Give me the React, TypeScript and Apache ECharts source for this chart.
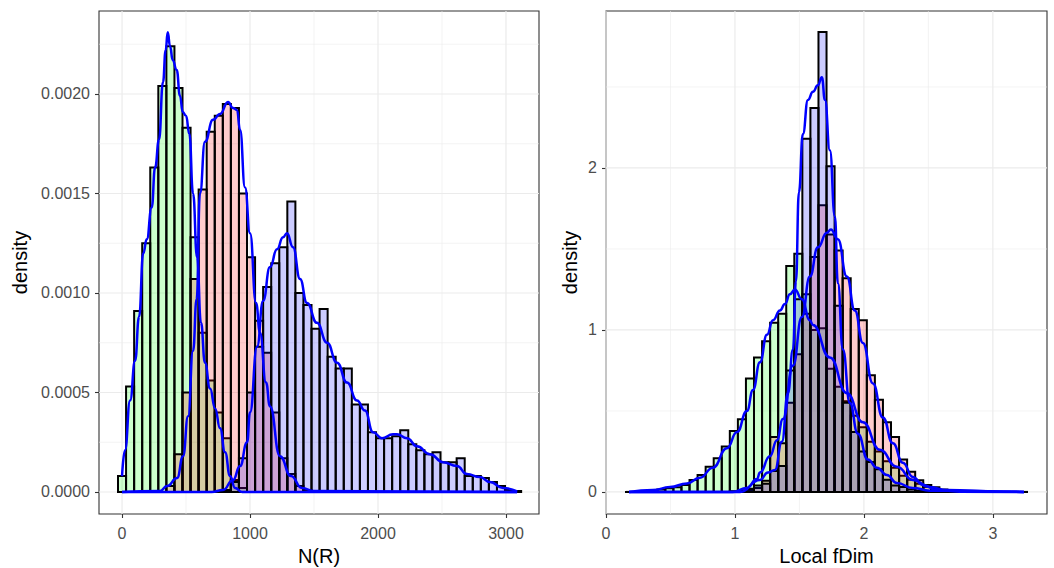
import React, { useEffect, useRef } from "react";
import * as echarts from "echarts";

// ---------------- Panel 1 : N(R) ----------------
const NR_FIRST_CENTER = 0;
const NR_BIN_WIDTH = 63;
const nrGreen = [
  0.00008, 0.00053, 0.00091, 0.00125, 0.00163, 0.00204, 0.00224, 0.00203, 0.00183, 0.00128,
  0.0008, 0.00056, 0.0004, 0.00027, 0.00006, 0.00002, 0, 0, 0, 0,
  0, 0, 0, 0, 0, 0, 0, 0, 0, 0,
  0, 0, 0, 0, 0, 0, 0, 0, 0, 0,
  0, 0, 0, 0, 0, 0, 0, 0, 0, 0,
];
const nrRed = [
  0, 0, 0, 0, 0, 0, 0.00003, 0.00019, 0.0005, 0.00107,
  0.00152, 0.00181, 0.00189, 0.00195, 0.00193, 0.0015, 0.00118, 0.00086, 0.0007, 0.0004,
  0.00017, 0.00009, 0.00003, 0.00001, 0, 0, 0, 0, 0, 0,
  0, 0, 0, 0, 0, 0, 0, 0, 0, 0,
  0, 0, 0, 0, 0, 0, 0, 0, 0, 0,
];
const nrBlue = [
  0, 0, 0, 0, 0, 0, 0, 0, 0, 0,
  0, 0, 0, 0.00001, 0.00005, 0.00017, 0.0005, 0.00073, 0.00103, 0.00115,
  0.00123, 0.00146, 0.001, 0.00094, 0.00082, 0.00092, 0.00068, 0.00062, 0.00062, 0.00044,
  0.00044, 0.0003, 0.00027, 0.00027, 0.00028, 0.00031, 0.00024, 0.00021, 0.00019, 0.0002,
  0.00015, 0.00015, 0.00017, 0.00008, 0.00008, 0.00007, 0.00005, 0.00003, 0.00001, 0.000005,
];
const nrDensGreen: number[][] = [
  [0, 0.00008], [23, 0.00021], [63, 0.00046], [102, 0.00066], [133, 0.00088], [166, 0.0012],
  [193, 0.00127], [232, 0.00143], [258, 0.00163], [289, 0.00177], [320, 0.00206], [341, 0.00222],
  [357, 0.00231], [375, 0.00224], [396, 0.00217], [427, 0.00212], [453, 0.00199], [474, 0.00191],
  [500, 0.00189], [526, 0.0018], [555, 0.0015], [586, 0.00118], [617, 0.00085], [648, 0.00065],
  [688, 0.00052], [727, 0.00042], [766, 0.00032], [805, 0.0002], [844, 0.00008], [883, 0.00002],
  [938, 0], [1500, 0], [3087, 0],
];
const nrDensRed: number[][] = [
  [0, 0], [297, 0.000005], [352, 0.00003], [430, 0.00007], [477, 0.00018], [516, 0.00038],
  [555, 0.00071], [583, 0.00097], [609, 0.0015], [648, 0.00176], [711, 0.00187], [766, 0.0019],
  [828, 0.00196], [867, 0.00193], [898, 0.00192], [922, 0.00182], [961, 0.00153], [1000, 0.0013],
  [1047, 0.00095], [1078, 0.0008], [1125, 0.00055], [1156, 0.00043], [1234, 0.00018], [1320, 0.00008],
  [1406, 0.00002], [1500, 0.000005], [3087, 0],
];
const nrDensBlue: number[][] = [
  [0, 0], [700, 0], [789, 0.00001], [867, 0.00006], [922, 0.00013], [977, 0.00025], [1000, 0.0004],
  [1055, 0.00073], [1102, 0.00096], [1156, 0.00113], [1211, 0.00122], [1258, 0.00128], [1289, 0.0013],
  [1336, 0.00123], [1391, 0.00107], [1445, 0.00095], [1523, 0.00085], [1602, 0.00075], [1680, 0.00065],
  [1758, 0.00055], [1836, 0.00046], [1898, 0.00041], [1961, 0.0003], [2031, 0.00027], [2117, 0.00029],
  [2148, 0.00029], [2227, 0.00027], [2305, 0.00023], [2406, 0.00019], [2508, 0.00015], [2617, 0.00013],
  [2695, 0.00009], [2797, 0.000075], [2875, 0.00005], [2977, 0.00002], [3087, 0.000003],
];
const nrXTicks = [0, 1000, 2000, 3000];
const nrXMinor = [500, 1500, 2500];
const nrYTicks = [0, 0.0005, 0.001, 0.0015, 0.002];
const nrYMinor = [0.00025, 0.00075, 0.00125, 0.00175, 0.00225];

// ---------------- Panel 2 : Local fDim ----------------
const FD_FIRST_CENTER = 0.179;
const FD_BIN_WIDTH = 0.0625;
const fdGreen = [
  0.003, 0.003, 0.006, 0.009, 0.016, 0.023, 0.029, 0.043, 0.074, 0.105,
  0.156, 0.208, 0.28, 0.377, 0.449, 0.7, 0.83, 0.93, 1.045, 1.1,
  1.395, 1.47, 1.22, 1.0, 1.01, 0.76, 0.65, 0.56, 0.47, 0.4,
  0.31, 0.25, 0.19, 0.15, 0.1, 0.075, 0.05, 0.03, 0.02, 0.012,
  0.007, 0.004, 0.003, 0.002, 0.001, 0.001, 0.0005, 0, 0, 0,
];
const fdRed = [
  0, 0, 0, 0, 0, 0, 0, 0, 0, 0,
  0, 0, 0, 0.003, 0.006, 0.012, 0.025, 0.07, 0.34, 0.3,
  0.55, 0.85, 1.1, 1.45, 1.77, 1.59, 1.49, 1.32, 1.13, 1.06,
  0.72, 0.57, 0.43, 0.34, 0.2, 0.125, 0.072, 0.043, 0.029, 0.015,
  0.008, 0.004, 0.002, 0.001, 0, 0, 0, 0, 0, 0,
];
const fdBlue = [
  0, 0, 0, 0, 0, 0, 0, 0, 0, 0,
  0, 0, 0.002, 0.005, 0.01, 0.02, 0.04, 0.05, 0.13, 0.16,
  0.75, 1.19, 2.18, 2.37, 2.84, 2.01, 1.15, 0.55, 0.37, 0.25,
  0.185, 0.14, 0.075, 0.04, 0.03, 0.015, 0.008, 0.005, 0.003, 0,
  0, 0, 0, 0, 0, 0, 0, 0, 0, 0,
];
const fdDensGreen: number[][] = [
  [0.179, 0.0], [0.364, 0.012], [0.496, 0.03], [0.628, 0.053], [0.729, 0.088], [0.829, 0.15],
  [0.938, 0.27], [1.016, 0.37], [1.093, 0.5], [1.14, 0.63], [1.194, 0.8], [1.248, 0.97],
  [1.295, 1.06], [1.349, 1.12], [1.388, 1.16], [1.426, 1.22], [1.465, 1.25], [1.519, 1.19],
  [1.581, 1.06], [1.605, 1.03], [1.736, 0.83], [1.868, 0.61], [1.992, 0.43], [2.124, 0.26],
  [2.256, 0.155], [2.38, 0.074], [2.512, 0.03], [2.643, 0.012], [3.05, 0.002], [3.241, 0],
];
const fdDensRed: number[][] = [
  [0.179, 0], [0.984, 0.0], [1.093, 0.025], [1.171, 0.08], [1.194, 0.12], [1.271, 0.22],
  [1.326, 0.32], [1.372, 0.45], [1.45, 0.78], [1.519, 1.08], [1.581, 1.33], [1.643, 1.51],
  [1.713, 1.6], [1.744, 1.62], [1.798, 1.56], [1.868, 1.33], [1.93, 1.12], [1.992, 0.92],
  [2.07, 0.67], [2.147, 0.46], [2.225, 0.3], [2.302, 0.18], [2.38, 0.093], [2.457, 0.043],
  [2.566, 0.012], [2.744, 0.002], [3.241, 0],
];
const fdDensBlue: number[][] = [
  [0.179, 0], [1.039, 0.0], [1.194, 0.074], [1.256, 0.12], [1.31, 0.136], [1.364, 0.31],
  [1.411, 0.61], [1.45, 0.88], [1.473, 1.3], [1.496, 1.85], [1.527, 2.21], [1.566, 2.42],
  [1.605, 2.47], [1.643, 2.51], [1.674, 2.56], [1.698, 2.42], [1.736, 2.11], [1.775, 1.7],
  [1.798, 1.29], [1.837, 0.88], [1.891, 0.55], [1.953, 0.36], [2.031, 0.2], [2.101, 0.15],
  [2.178, 0.105], [2.256, 0.055], [2.38, 0.025], [2.512, 0.008], [3.241, 0],
];
const fdXTicks = [0, 1, 2, 3];
const fdXMinor = [0.5, 1.5, 2.5];
const fdYTicks = [0, 1, 2];
const fdYMinor = [0.5, 1.5, 2.5];

// ---------------- styling ----------------
const FONT = "'Liberation Sans', Arial, Helvetica, sans-serif";
const FILL_GREEN = "rgba(0,255,0,0.2)";
const FILL_RED = "rgba(255,0,0,0.2)";
const FILL_BLUE = "rgba(0,0,255,0.2)";
const DENS_COLOR = "#0000FF";
const OUTLINE_W = 2;

function binItems(values: number[], firstCenter: number, width: number) {
  return values.map((h, i) => {
    const c = firstCenter + i * width;
    return [c - width / 2, c + width / 2, h];
  });
}

function barSeries(values: number[], firstCenter: number, width: number, fill: string, idx: number) {
  return {
    type: "custom",
    xAxisIndex: idx,
    yAxisIndex: idx,
    z: 3,
    silent: true,
    data: binItems(values, firstCenter, width),
    encode: { x: [0, 1], y: 2 },
    renderItem: (_params: any, api: any) => {
      const x0 = api.value(0);
      const x1 = api.value(1);
      const h = api.value(2);
      const pTop = api.coord([x0, h]);
      const pBase = api.coord([x1, 0]);
      const w = pBase[0] - pTop[0];
      const hh = pBase[1] - pTop[1];
      if (hh < 0.6) {
        return {
          type: "line",
          shape: { x1: pTop[0], y1: pBase[1], x2: pBase[0], y2: pBase[1] },
          style: { stroke: "#000", lineWidth: OUTLINE_W },
        };
      }
      return {
        type: "rect",
        shape: { x: pTop[0], y: pTop[1], width: w, height: hh },
        style: { fill, stroke: "#000", lineWidth: OUTLINE_W },
      };
    },
  };
}

function gridLineSeries(idx: number, xMajor: number[], xMinor: number[], yMajor: number[], yMinor: number[]) {
  const data = [
    ...xMinor.map((v) => [v, 0, 0]),
    ...yMinor.map((v) => [v, 1, 0]),
    ...xMajor.map((v) => [v, 0, 1]),
    ...yMajor.map((v) => [v, 1, 1]),
  ];
  return {
    type: "custom",
    xAxisIndex: idx,
    yAxisIndex: idx,
    z: 1,
    silent: true,
    data,
    renderItem: (params: any, api: any) => {
      const cs = params.coordSys;
      const v = api.value(0);
      const horiz = api.value(1) === 1;
      const major = api.value(2) === 1;
      const style = { stroke: "#EBEBEB", lineWidth: major ? 1.2 : 0.6 };
      if (horiz) {
        const y = api.coord([0, v])[1];
        return { type: "line", shape: { x1: cs.x, y1: y, x2: cs.x + cs.width, y2: y }, style };
      }
      const x = api.coord([v, 0])[0];
      return { type: "line", shape: { x1: x, y1: cs.y, x2: x, y2: cs.y + cs.height }, style };
    },
  };
}

function densSeries(pts: number[][], idx: number) {
  return {
    type: "line",
    xAxisIndex: idx,
    yAxisIndex: idx,
    data: pts,
    showSymbol: false,
    symbol: "none",
    smooth: 0.5,
    smoothMonotone: "x",
    silent: true,
    z: 5,
    lineStyle: { color: DENS_COLOR, width: 2.5 },
  };
}

function xAxisCfg(idx: number, min: number, max: number, ticks: number[], name: string, fmt: (v: number) => string) {
  return {
    type: "value",
    gridIndex: idx,
    min,
    max,
    axisLine: { show: false, onZero: false },
    axisTick: { show: true, customValues: ticks, length: 4, lineStyle: { color: "#333333", width: 1.1 } },
    axisLabel: { customValues: ticks, color: "#4D4D4D", fontSize: 16, fontFamily: FONT, margin: 11, formatter: fmt },
    splitLine: { show: false },
    name,
    nameLocation: "middle",
    nameGap: 30,
    nameTextStyle: { color: "#000", fontSize: 20, fontFamily: FONT },
  };
}

function yAxisCfg(idx: number, min: number, max: number, ticks: number[], gap: number, fmt: (v: number) => string) {
  return {
    type: "value",
    gridIndex: idx,
    min,
    max,
    axisLine: { show: false, onZero: false },
    axisTick: { show: true, customValues: ticks, length: 4, lineStyle: { color: "#333333", width: 1.1 } },
    axisLabel: { customValues: ticks, color: "#4D4D4D", fontSize: 16, fontFamily: FONT, margin: 9, formatter: fmt },
    splitLine: { show: false },
    name: "density",
    nameLocation: "middle",
    nameRotate: 90,
    nameGap: gap,
    nameTextStyle: { color: "#000", fontSize: 20, fontFamily: FONT },
  };
}

export default function App() {
  const ref = useRef<HTMLDivElement>(null);
  useEffect(() => {
    if (!ref.current) return;
    const chart = echarts.init(ref.current, undefined, { renderer: "svg" });
    const gridBase = {
      show: true,
      borderColor: "#333333",
      borderWidth: 1.1,
      backgroundColor: "#FFFFFF",
      containLabel: false,
      outerBoundsMode: "none",
    };
    chart.setOption({
      animation: false,
      backgroundColor: "#FFFFFF",
      grid: [
        { ...gridBase, left: 99, top: 11, width: 440, height: 503 },
        { ...gridBase, left: 606, top: 11, width: 441, height: 503 },
      ],
      xAxis: [
        xAxisCfg(0, -180, 3258, nrXTicks, "N(R)", (v) => String(v)),
        xAxisCfg(1, 0, 3.42, fdXTicks, "Local fDim", (v) => String(v)),
      ],
      yAxis: [
        yAxisCfg(0, -0.0001106, 0.002417, nrYTicks, 69, (v) => v.toFixed(4)),
        yAxisCfg(1, -0.136, 2.969, fdYTicks, 26, (v) => String(v)),
      ],
      series: [
        gridLineSeries(0, nrXTicks, nrXMinor, nrYTicks, nrYMinor),
        gridLineSeries(1, fdXTicks, fdXMinor, fdYTicks, fdYMinor),
        barSeries(nrGreen, NR_FIRST_CENTER, NR_BIN_WIDTH, FILL_GREEN, 0),
        barSeries(nrRed, NR_FIRST_CENTER, NR_BIN_WIDTH, FILL_RED, 0),
        barSeries(nrBlue, NR_FIRST_CENTER, NR_BIN_WIDTH, FILL_BLUE, 0),
        barSeries(fdGreen, FD_FIRST_CENTER, FD_BIN_WIDTH, FILL_GREEN, 1),
        barSeries(fdRed, FD_FIRST_CENTER, FD_BIN_WIDTH, FILL_RED, 1),
        barSeries(fdBlue, FD_FIRST_CENTER, FD_BIN_WIDTH, FILL_BLUE, 1),
        densSeries(nrDensGreen, 0),
        densSeries(nrDensRed, 0),
        densSeries(nrDensBlue, 0),
        densSeries(fdDensGreen, 1),
        densSeries(fdDensRed, 1),
        densSeries(fdDensBlue, 1),
      ],
    });
    return () => chart.dispose();
  }, []);
  return (
    <div
      ref={ref}
      style={{ position: "absolute", left: 0, top: 0, width: 1054, height: 568, background: "#FFFFFF" }}
    />
  );
}
